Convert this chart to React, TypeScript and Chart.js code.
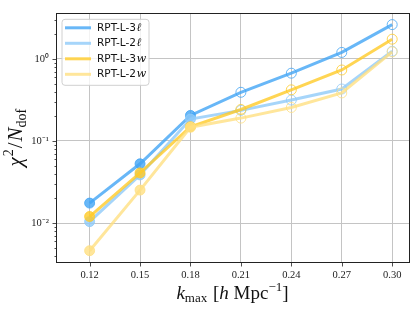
import React, { useEffect, useRef } from 'react';
import { Chart, registerables } from 'chart.js';

Chart.register(...registerables);

const kmax = [0.12, 0.15, 0.18, 0.21, 0.24, 0.27, 0.3];
const rpt3l = [0.0175, 0.0527, 0.205, 0.392, 0.67, 1.2, 2.62];
const rpt2l = [0.0104, 0.0386, 0.185, 0.236, 0.315, 0.43, 1.24];
const rpt3w = [0.012, 0.0408, 0.149, 0.242, 0.42, 0.733, 1.74];
const rpt2w = [0.0046, 0.0252, 0.147, 0.19, 0.256, 0.385, 1.22];
const seriesNames = ['RPT-L-3', 'RPT-L-2', 'RPT-L-3', 'RPT-L-2'];
const seriesSuffix = ['ℓ', 'ℓ', 'w', 'w'];
const seriesColors = [
  'rgba(66,165,245,0.8)',
  'rgba(144,202,249,0.8)',
  'rgba(255,202,40,0.8)',
  'rgba(255,224,130,0.8)',
];
const filledMaxK = 0.18;
const xTickValues = [0.12, 0.15, 0.18, 0.21, 0.24, 0.27, 0.3];
const xMin = 0.1;
const xMax = 0.31;
const yMin = Math.pow(10, -2.475);
const yMax = Math.pow(10, 0.556);

const supMap: Record<string, string> = { '-': '⁻', '0': '⁰', '1': '¹', '2': '²', '3': '³' };
const toSup = (s: string) => s.split('').map((c) => supMap[c] || c).join('');
const isMajor = (v: number) => {
  const l = Math.log10(v);
  return Math.abs(l - Math.round(l)) < 1e-6;
};

type Piece = { text: string; font: string; dy?: number; gap?: number };
function drawRich(ctx: CanvasRenderingContext2D, pieces: Piece[], cx: number, cy: number) {
  let total = 0;
  const widths = pieces.map((p) => {
    ctx.font = p.font;
    const w = ctx.measureText(p.text).width + (p.gap || 0);
    total += w;
    return w;
  });
  let x = cx - total / 2;
  ctx.textBaseline = 'alphabetic';
  ctx.textAlign = 'left';
  pieces.forEach((p, i) => {
    ctx.font = p.font;
    ctx.fillText(p.text, x, cy + (p.dy || 0));
    x += widths[i];
  });
}

const decorPlugin = {
  id: 'decor',
  afterDraw(chart: any) {
    const ctx: CanvasRenderingContext2D = chart.ctx;
    const a = chart.chartArea;
    const xs = chart.scales.x;
    const ys = chart.scales.y;
    ctx.save();
    // frame
    ctx.strokeStyle = '#222';
    ctx.lineWidth = 1;
    ctx.strokeRect(Math.round(a.left) + 0.5, Math.round(a.top) + 0.5, Math.round(a.right - a.left), Math.round(a.bottom - a.top));
    // tick marks
    ctx.beginPath();
    ys.ticks.forEach((t: any) => {
      const y = Math.round(ys.getPixelForValue(t.value)) + 0.5;
      const len = isMajor(t.value) ? 4 : 2;
      ctx.moveTo(Math.round(a.left) + 0.5, y);
      ctx.lineTo(Math.round(a.left) + 0.5 - len, y);
    });
    xs.ticks.forEach((t: any) => {
      const x = Math.round(xs.getPixelForValue(t.value)) + 0.5;
      ctx.moveTo(x, Math.round(a.bottom) + 0.5);
      ctx.lineTo(x, Math.round(a.bottom) + 0.5 + 4);
    });
    ctx.lineWidth = 0.8;
    ctx.stroke();

    // legend
    const lx = a.left + 6;
    const ly = a.top + 6;
    const lw = 87;
    const lh = 66;
    ctx.beginPath();
    const r = 3;
    ctx.moveTo(lx + r, ly);
    ctx.arcTo(lx + lw, ly, lx + lw, ly + lh, r);
    ctx.arcTo(lx + lw, ly + lh, lx, ly + lh, r);
    ctx.arcTo(lx, ly + lh, lx, ly, r);
    ctx.arcTo(lx, ly, lx + lw, ly, r);
    ctx.closePath();
    ctx.fillStyle = 'rgba(255,255,255,0.8)';
    ctx.fill();
    ctx.strokeStyle = '#d0d0d0';
    ctx.lineWidth = 1;
    ctx.stroke();
    seriesNames.forEach((name, i) => {
      const yy = ly + 8.5 + i * 15.5;
      ctx.beginPath();
      ctx.moveTo(lx + 3, yy);
      ctx.lineTo(lx + 29, yy);
      ctx.strokeStyle = seriesColors[i];
      ctx.lineWidth = 3;
      ctx.stroke();
      ctx.fillStyle = '#111';
      ctx.textBaseline = 'middle';
      ctx.textAlign = 'left';
      ctx.font = '10.5px "DejaVu Sans"';
      ctx.fillText(name, lx + 35, yy);
      const w = ctx.measureText(name).width;
      ctx.font = 'italic 11.5px "DejaVu Serif"';
      ctx.fillText(seriesSuffix[i], lx + 35 + w + 0.5, yy);
    });

    // axis titles
    ctx.fillStyle = '#111';
    const cxT = (a.left + a.right) / 2;
    drawRich(
      ctx,
      [
        { text: 'k', font: 'italic 19px "Liberation Serif"' },
        { text: 'max', font: '13px "Liberation Serif"', dy: 3, gap: 1 },
        { text: ' [', font: '19px "Liberation Serif"' },
        { text: 'h', font: 'italic 19px "Liberation Serif"' },
        { text: ' Mpc', font: '19px "Liberation Serif"' },
        { text: '−1', font: '13px "Liberation Serif"', dy: -8 },
        { text: ']', font: '19px "Liberation Serif"' },
      ],
      cxT,
      a.bottom + 37
    );
    ctx.save();
    ctx.translate(22, (a.top + a.bottom) / 2);
    ctx.rotate(-Math.PI / 2);
    drawRich(
      ctx,
      [
        { text: 'χ', font: 'italic 21px "Liberation Serif"', gap: 1 },
        { text: '2', font: '14px "Liberation Serif"', dy: -9, gap: 1 },
        { text: '/', font: '21px "Liberation Serif"', gap: 1 },
        { text: 'N', font: 'italic 21px "Liberation Serif"', gap: 0 },
        { text: 'dof', font: '14px "Liberation Serif"', dy: 4 },
      ],
      0,
      0
    );
    ctx.restore();
    ctx.restore();
  },
};

export default function App() {
  const ref = useRef<HTMLCanvasElement>(null);
  useEffect(() => {
    if (!ref.current) return;
    const mk = (vals: number[], i: number) => ({
      label: seriesNames[i] + seriesSuffix[i],
      data: kmax.map((k, j) => ({ x: k, y: vals[j] })),
      borderColor: seriesColors[i],
      backgroundColor: seriesColors[i],
      borderWidth: 3,
      pointRadius: 5,
      pointHoverRadius: 5,
      pointBorderWidth: 1,
      pointBorderColor: seriesColors[i],
      pointBackgroundColor: kmax.map((k) => (k <= filledMaxK + 1e-9 ? seriesColors[i] : 'rgba(0,0,0,0)')),
      order: 4 - i,
      tension: 0,
    });
    const chart = new Chart(ref.current, {
      type: 'line',
      data: {
        datasets: [mk(rpt3l, 0), mk(rpt2l, 1), mk(rpt3w, 2), mk(rpt2w, 3)],
      },
      options: {
        animation: false,
        responsive: false,
        layout: { padding: { top: 6, right: 6, left: 0, bottom: 0 } },
        plugins: { legend: { display: false }, tooltip: { enabled: false } },
        scales: {
          x: {
            type: 'linear',
            min: xMin,
            max: xMax,
            afterBuildTicks: (s: any) => {
              s.ticks = xTickValues.map((v) => ({ value: v }));
            },
            afterFit: (s: any) => {
              s.height = 48;
            },
            ticks: {
              autoSkip: false,
              maxRotation: 0,
              padding: 7,
              color: '#222',
              font: { family: 'Liberation Serif', size: 10.5 },
              callback: (v: any) => Number(v).toFixed(2),
            },
            grid: { color: '#c4c4c4', drawTicks: false, lineWidth: 1 },
            border: { display: false },
          },
          y: {
            type: 'logarithmic',
            min: yMin,
            max: yMax,
            afterBuildTicks: (s: any) => {
              const t: { value: number }[] = [];
              for (let e = -3; e <= 1; e++) {
                for (let m = 1; m <= 9; m++) {
                  const v = m * Math.pow(10, e);
                  if (v >= yMin && v <= yMax) t.push({ value: v });
                }
              }
              s.ticks = t;
            },
            afterFit: (s: any) => {
              s.width = 56;
            },
            ticks: {
              autoSkip: false,
              padding: 7,
              color: '#222',
              font: { family: 'Liberation Serif', size: 10.5 },
              callback: (v: any) => {
                const n = Number(v);
                if (!isMajor(n)) return '';
                return '10' + toSup(String(Math.round(Math.log10(n))));
              },
            },
            grid: {
              drawTicks: false,
              lineWidth: 1,
              color: (c: any) => (c.tick && isMajor(c.tick.value) ? '#c4c4c4' : 'rgba(0,0,0,0)'),
            },
            border: { display: false },
          },
        },
      },
      plugins: [decorPlugin],
    } as any);
    return () => chart.destroy();
  }, []);
  return (
    <div style={{ position: 'fixed', left: 0, top: 0, width: 415, height: 310, background: '#fff' }}>
      <canvas ref={ref} width={415} height={310} />
    </div>
  );
}
